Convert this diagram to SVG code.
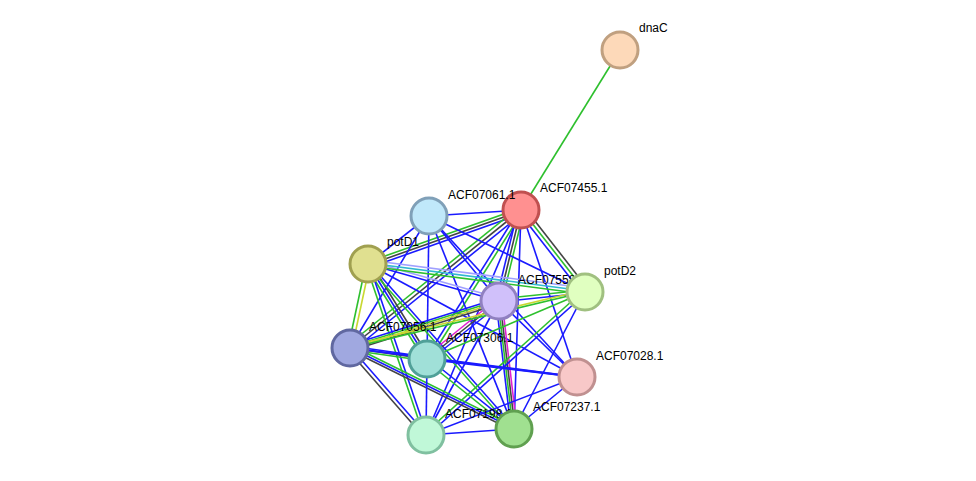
<svg xmlns="http://www.w3.org/2000/svg" width="976" height="481" viewBox="0 0 976 481">
<style>
line{stroke-width:1.6;fill:none}
.b{stroke:#1a1aff}.g{stroke:#2ec02e}.k{stroke:#444}.y{stroke:#c8d830}.c{stroke:#30b8d0}.m{stroke:#e020d0}.lb{stroke:#a0a0ff}
circle{stroke-width:3}
text{font-family:"Liberation Sans",Arial,sans-serif;font-size:12px;fill:#000}
</style>
<rect width="976" height="481" fill="#fff"/>
<g id="connectors">
<line class="g" x1="521" y1="210" x2="620" y2="50"/>
<line class="b" x1="521" y1="210" x2="429" y2="216"/>
<line class="g" x1="521" y1="208" x2="368" y2="262"/><line class="k" x1="521" y1="211" x2="368" y2="265"/><line class="b" x1="521" y1="214" x2="368" y2="268"/>
<line class="b" x1="518" y1="210" x2="496" y2="301"/><line class="k" x1="521" y1="210" x2="499" y2="301"/><line class="g" x1="524" y1="210" x2="502" y2="301"/>
<line class="b" x1="518" y1="211" x2="582" y2="293"/><line class="g" x1="521" y1="209" x2="585" y2="291"/><line class="k" x1="524" y1="207" x2="588" y2="289"/>
<line class="g" x1="519" y1="207" x2="348" y2="345"/><line class="k" x1="521" y1="210" x2="350" y2="348"/><line class="b" x1="523" y1="213" x2="352" y2="351"/>
<line class="b" x1="520" y1="209" x2="426" y2="358"/><line class="g" x1="523" y1="211" x2="429" y2="360"/>
<line class="b" x1="521" y1="210" x2="577" y2="377"/>
<line class="b" x1="521" y1="210" x2="426" y2="435"/>
<line class="b" x1="521" y1="210" x2="514" y2="429"/>
<line class="b" x1="429" y1="216" x2="368" y2="264"/>
<line class="b" x1="429" y1="216" x2="499" y2="301"/>
<line class="b" x1="429" y1="216" x2="585" y2="292"/>
<line class="b" x1="429" y1="216" x2="350" y2="348"/>
<line class="b" x1="429" y1="216" x2="427" y2="359"/>
<line class="b" x1="429" y1="216" x2="577" y2="377"/>
<line class="b" x1="429" y1="216" x2="514" y2="429"/>
<line class="b" x1="368" y1="264" x2="499" y2="301"/><line class="lb" x1="368" y1="261" x2="499" y2="298"/>
<line class="lb" x1="368" y1="260" x2="585" y2="288"/><line class="c" x1="368" y1="263" x2="585" y2="291"/><line class="g" x1="368" y1="266" x2="585" y2="294"/>
<line class="g" x1="366" y1="264" x2="348" y2="348"/><line class="y" x1="370" y1="264" x2="352" y2="348"/>
<line class="g" x1="366" y1="266" x2="425" y2="361"/><line class="b" x1="368" y1="264" x2="427" y2="359"/><line class="k" x1="370" y1="262" x2="429" y2="357"/>
<line class="g" x1="366" y1="265" x2="424" y2="436"/><line class="b" x1="369" y1="264" x2="427" y2="435"/>
<line class="g" x1="367" y1="265" x2="513" y2="430"/><line class="b" x1="369" y1="263" x2="515" y2="428"/>
<line class="b" x1="368" y1="264" x2="577" y2="377"/>
<line class="g" x1="499" y1="299" x2="585" y2="290"/><line class="b" x1="499" y1="302" x2="585" y2="293"/>
<line class="b" x1="499" y1="298" x2="350" y2="345"/><line class="g" x1="499" y1="300" x2="350" y2="347"/><line class="y" x1="499" y1="302" x2="350" y2="349"/><line class="k" x1="499" y1="304" x2="350" y2="351"/>
<line class="m" x1="497" y1="299" x2="425" y2="357"/><line class="k" x1="499" y1="301" x2="427" y2="359"/><line class="b" x1="501" y1="303" x2="429" y2="361"/>
<line class="b" x1="499" y1="301" x2="577" y2="377"/>
<line class="b" x1="499" y1="301" x2="426" y2="435"/>
<line class="b" x1="496" y1="301" x2="511" y2="429"/><line class="g" x1="498" y1="301" x2="513" y2="429"/><line class="k" x1="500" y1="301" x2="515" y2="429"/><line class="m" x1="502" y1="301" x2="517" y2="429"/>
<line class="y" x1="585" y1="290" x2="350" y2="346"/><line class="g" x1="585" y1="292" x2="350" y2="348"/>
<line class="g" x1="585" y1="292" x2="427" y2="359"/>
<line class="g" x1="583" y1="291" x2="424" y2="434"/><line class="b" x1="586" y1="293" x2="427" y2="436"/>
<line class="b" x1="585" y1="292" x2="514" y2="429"/>
<line class="b" x1="350" y1="346" x2="427" y2="357"/><line class="k" x1="350" y1="348" x2="427" y2="359"/><line class="g" x1="350" y1="350" x2="427" y2="361"/>
<line class="b" x1="350" y1="348" x2="577" y2="377" style="stroke-width:2.2"/>
<line class="k" x1="348" y1="350" x2="424" y2="437"/><line class="b" x1="351" y1="348" x2="427" y2="435"/>
<line class="k" x1="350" y1="350" x2="514" y2="431"/><line class="b" x1="351" y1="348" x2="515" y2="429"/><line class="g" x1="352" y1="346" x2="516" y2="427"/>
<line class="b" x1="427" y1="359" x2="577" y2="377" style="stroke-width:2.2"/>
<line class="b" x1="427" y1="359" x2="426" y2="435"/>
<line class="g" x1="426" y1="361" x2="513" y2="431"/><line class="b" x1="428" y1="358" x2="515" y2="428"/>
<line class="b" x1="577" y1="377" x2="514" y2="429"/>
<line class="b" x1="577" y1="377" x2="426" y2="435"/>
<line class="b" x1="426" y1="435" x2="514" y2="429"/>
</g>
<g id="dnaC"><circle cx="620" cy="50" r="18" fill="#fdd9b9" stroke="#c0a080"/><text x="639" y="32">dnaC</text></g>
<g id="ACF07455.1"><circle cx="521" cy="210" r="18" fill="#ff9090" stroke="#c05050"/><text x="540" y="192">ACF07455.1</text></g>
<g id="ACF07061.1"><circle cx="429" cy="216" r="18" fill="#c0e8fa" stroke="#80a0b8"/><text x="448" y="199">ACF07061.1</text></g>
<g id="potD1"><circle cx="368" cy="264" r="18" fill="#e0e090" stroke="#a0a050"/><text x="387" y="246">potD1</text></g>
<g id="ACF07558.1"><circle cx="499" cy="301" r="18" fill="#d0c0fa" stroke="#9080c0"/><text x="518" y="284">ACF07558.1</text></g>
<g id="potD2"><circle cx="585" cy="292" r="18" fill="#e0ffc0" stroke="#a0c080"/><text x="604" y="275">potD2</text></g>
<g id="ACF07056.1"><circle cx="350" cy="348" r="18" fill="#a0a8e0" stroke="#6068a0"/><text x="369" y="331">ACF07056.1</text></g>
<g id="ACF07306.1"><circle cx="427" cy="359" r="18" fill="#a0e0d8" stroke="#50a098"/><text x="446" y="342">ACF07306.1</text></g>
<g id="ACF07028.1"><circle cx="577" cy="377" r="18" fill="#f8c8c8" stroke="#c09090"/><text x="596" y="360">ACF07028.1</text></g>
<g id="ACF07198.1"><circle cx="426" cy="435" r="18" fill="#c0f8d8" stroke="#80c0a0"/><text x="445" y="418">ACF07198.1</text></g>
<g id="ACF07237.1"><circle cx="514" cy="429" r="18" fill="#a0e090" stroke="#60a050"/><text x="533" y="411">ACF07237.1</text></g>
</svg>
